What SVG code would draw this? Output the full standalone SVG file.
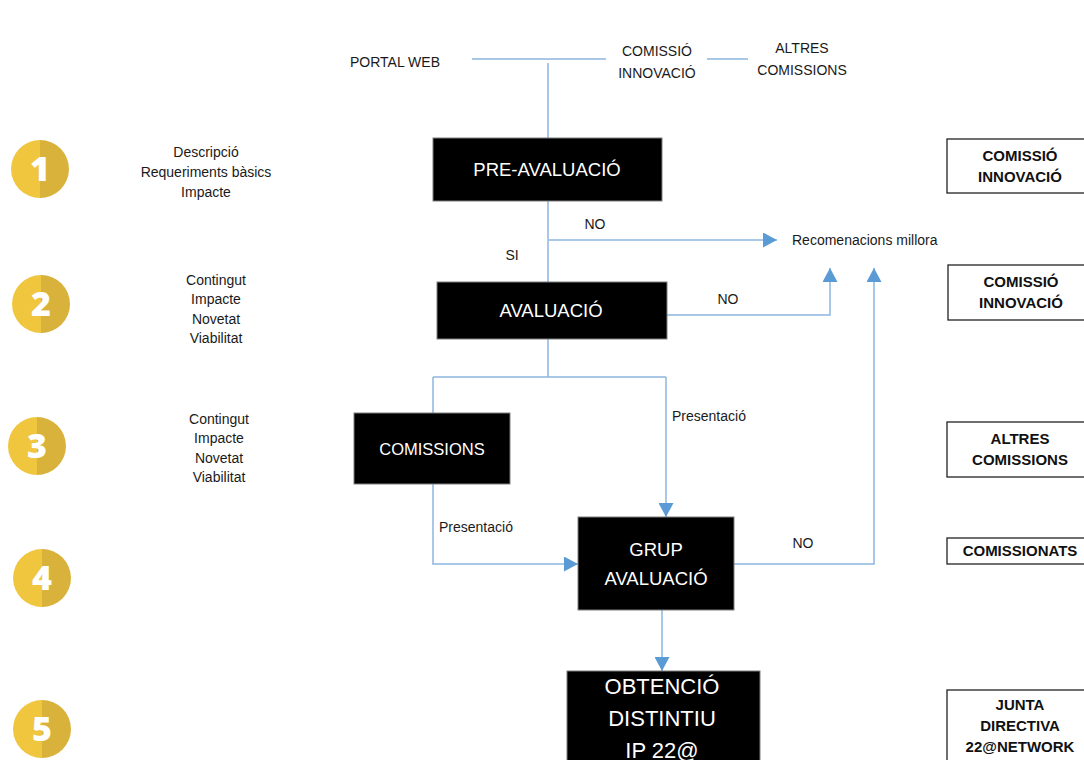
<svg xmlns="http://www.w3.org/2000/svg" width="1084" height="760" viewBox="0 0 1084 760">
<defs>
<marker id="arr" markerUnits="userSpaceOnUse" markerWidth="14" markerHeight="15" refX="14" refY="7.5" orient="auto">
<path d="M0,0 L14,7.5 L0,15 z" fill="#5B9BD5"/>
</marker>
<style>
.t{font-family:"Liberation Sans",Arial,sans-serif;fill:#1a1a1a;font-size:14px;text-anchor:middle}
.tl{font-family:"Liberation Sans",Arial,sans-serif;fill:#1a1a1a;font-size:14px}
.bx{fill:#000;stroke:#7f7f7f;stroke-width:1}
.bt{font-family:"Liberation Sans",Arial,sans-serif;fill:#fff;text-anchor:middle}
.rb{fill:#fff;stroke:#222;stroke-width:1.3}
.rt{font-family:"Liberation Sans",Arial,sans-serif;font-weight:bold;font-size:15px;fill:#111;text-anchor:middle}
.ln{fill:none;stroke:#8DB6E0;stroke-width:1.5}
.ca{fill:#F0C63E}
.cb{fill:#D9B23C}
.num{font-family:"Open Sans","Noto Sans",sans-serif;font-weight:800;font-size:34px;fill:#fff;text-anchor:middle}
</style>
</defs>
<rect width="1084" height="760" fill="#fff"/>

<g id="steps">
<g id="step1"><path class="ca" d="M40,140 A29,29 0 0 0 40,198 Z"/><path class="cb" d="M40,140 A29,29 0 0 1 40,198 Z"/><text class="num" x="40" y="181">1</text></g>
<g id="step2"><path class="ca" d="M41,275 A29,29 0 0 0 41,333 Z"/><path class="cb" d="M41,275 A29,29 0 0 1 41,333 Z"/><text class="num" x="41" y="316">2</text></g>
<g id="step3"><path class="ca" d="M37,417 A29,29 0 0 0 37,475 Z"/><path class="cb" d="M37,417 A29,29 0 0 1 37,475 Z"/><text class="num" x="37" y="458">3</text></g>
<g id="step4"><path class="ca" d="M42,549 A29,29 0 0 0 42,607 Z"/><path class="cb" d="M42,549 A29,29 0 0 1 42,607 Z"/><text class="num" x="42" y="590">4</text></g>
<g id="step5"><path class="ca" d="M42,700 A29,29 0 0 0 42,758 Z"/><path class="cb" d="M42,700 A29,29 0 0 1 42,758 Z"/><text class="num" x="42" y="741">5</text></g>
</g>

<g id="criteria">
<text class="t" x="206" y="157">Descripció</text>
<text class="t" x="206" y="177">Requeriments bàsics</text>
<text class="t" x="206" y="197">Impacte</text>
<text class="t" x="216" y="285">Contingut</text>
<text class="t" x="216" y="304">Impacte</text>
<text class="t" x="216" y="324">Novetat</text>
<text class="t" x="216" y="343">Viabilitat</text>
<text class="t" x="219" y="424">Contingut</text>
<text class="t" x="219" y="443">Impacte</text>
<text class="t" x="219" y="463">Novetat</text>
<text class="t" x="219" y="482">Viabilitat</text>
</g>

<g id="top">
<text class="t" x="395" y="67">PORTAL WEB</text>
<text class="t" x="657" y="56">COMISSIÓ</text>
<text class="t" x="657" y="78">INNOVACIÓ</text>
<text class="t" x="802" y="53">ALTRES</text>
<text class="t" x="802" y="75">COMISSIONS</text>
</g>

<g id="connectors">
<path class="ln" d="M472,59 H606"/>
<path class="ln" d="M707,59 H748"/>
<path class="ln" d="M548,63 V138"/>
<path class="ln" d="M548,201 V282"/>
<path class="ln" d="M549,240 H777" marker-end="url(#arr)"/>
<path class="ln" d="M667,315 H830 V268" marker-end="url(#arr)"/>
<path class="ln" d="M548,339 V377"/>
<path class="ln" d="M433,377 H666"/>
<path class="ln" d="M433,377 V413"/>
<path class="ln" d="M666,377 V517" marker-end="url(#arr)"/>
<path class="ln" d="M433,484 V564 H578" marker-end="url(#arr)"/>
<path class="ln" d="M734,564 H874 V268" marker-end="url(#arr)"/>
<path class="ln" d="M662,610 V671" marker-end="url(#arr)"/>
</g>

<g id="labels">
<text class="t" x="595" y="229">NO</text>
<text class="t" x="512" y="260">SI</text>
<text class="tl" x="792" y="245">Recomenacions millora</text>
<text class="t" x="728" y="304">NO</text>
<text class="tl" x="672" y="421">Presentació</text>
<text class="tl" x="439" y="532">Presentació</text>
<text class="t" x="803" y="548">NO</text>
</g>

<g id="pre-avaluacio"><rect class="bx" x="433" y="138" width="229" height="63"/><text class="bt" x="547" y="176" font-size="18.5">PRE-AVALUACIÓ</text></g>
<g id="avaluacio"><rect class="bx" x="437" y="282" width="230" height="57"/><text class="bt" x="551" y="317" font-size="18.5">AVALUACIÓ</text></g>
<g id="comissions"><rect class="bx" x="354" y="413" width="156" height="71"/><text class="bt" x="432" y="455" font-size="16.5">COMISSIONS</text></g>
<g id="grup-avaluacio"><rect class="bx" x="578" y="517" width="156" height="93"/><text class="bt" x="656" y="556" font-size="18.5">GRUP</text><text class="bt" x="656" y="585" font-size="18.5">AVALUACIÓ</text></g>
<g id="obtencio"><rect class="bx" x="567" y="671" width="193" height="100"/><text class="bt" x="662" y="694" font-size="22">OBTENCIÓ</text><text class="bt" x="662" y="726" font-size="22">DISTINTIU</text><text class="bt" x="662" y="758" font-size="22">IP 22@</text></g>

<g id="roles">
<g id="role1"><rect class="rb" x="947" y="139" width="145" height="54"/><text class="rt" x="1020" y="161">COMISSIÓ</text><text class="rt" x="1020" y="182">INNOVACIÓ</text></g>
<g id="role2"><rect class="rb" x="948" y="265" width="145" height="55"/><text class="rt" x="1021" y="287">COMISSIÓ</text><text class="rt" x="1021" y="308">INNOVACIÓ</text></g>
<g id="role3"><rect class="rb" x="947" y="422" width="145" height="55"/><text class="rt" x="1020" y="444">ALTRES</text><text class="rt" x="1020" y="465">COMISSIONS</text></g>
<g id="role4"><rect class="rb" x="947" y="538" width="145" height="26"/><text class="rt" x="1020" y="556">COMISSIONATS</text></g>
<g id="role5"><rect class="rb" x="947" y="690" width="145" height="80"/><text class="rt" x="1020" y="710">JUNTA</text><text class="rt" x="1020" y="731">DIRECTIVA</text><text class="rt" x="1020" y="752">22@NETWORK</text></g>
</g>
</svg>
